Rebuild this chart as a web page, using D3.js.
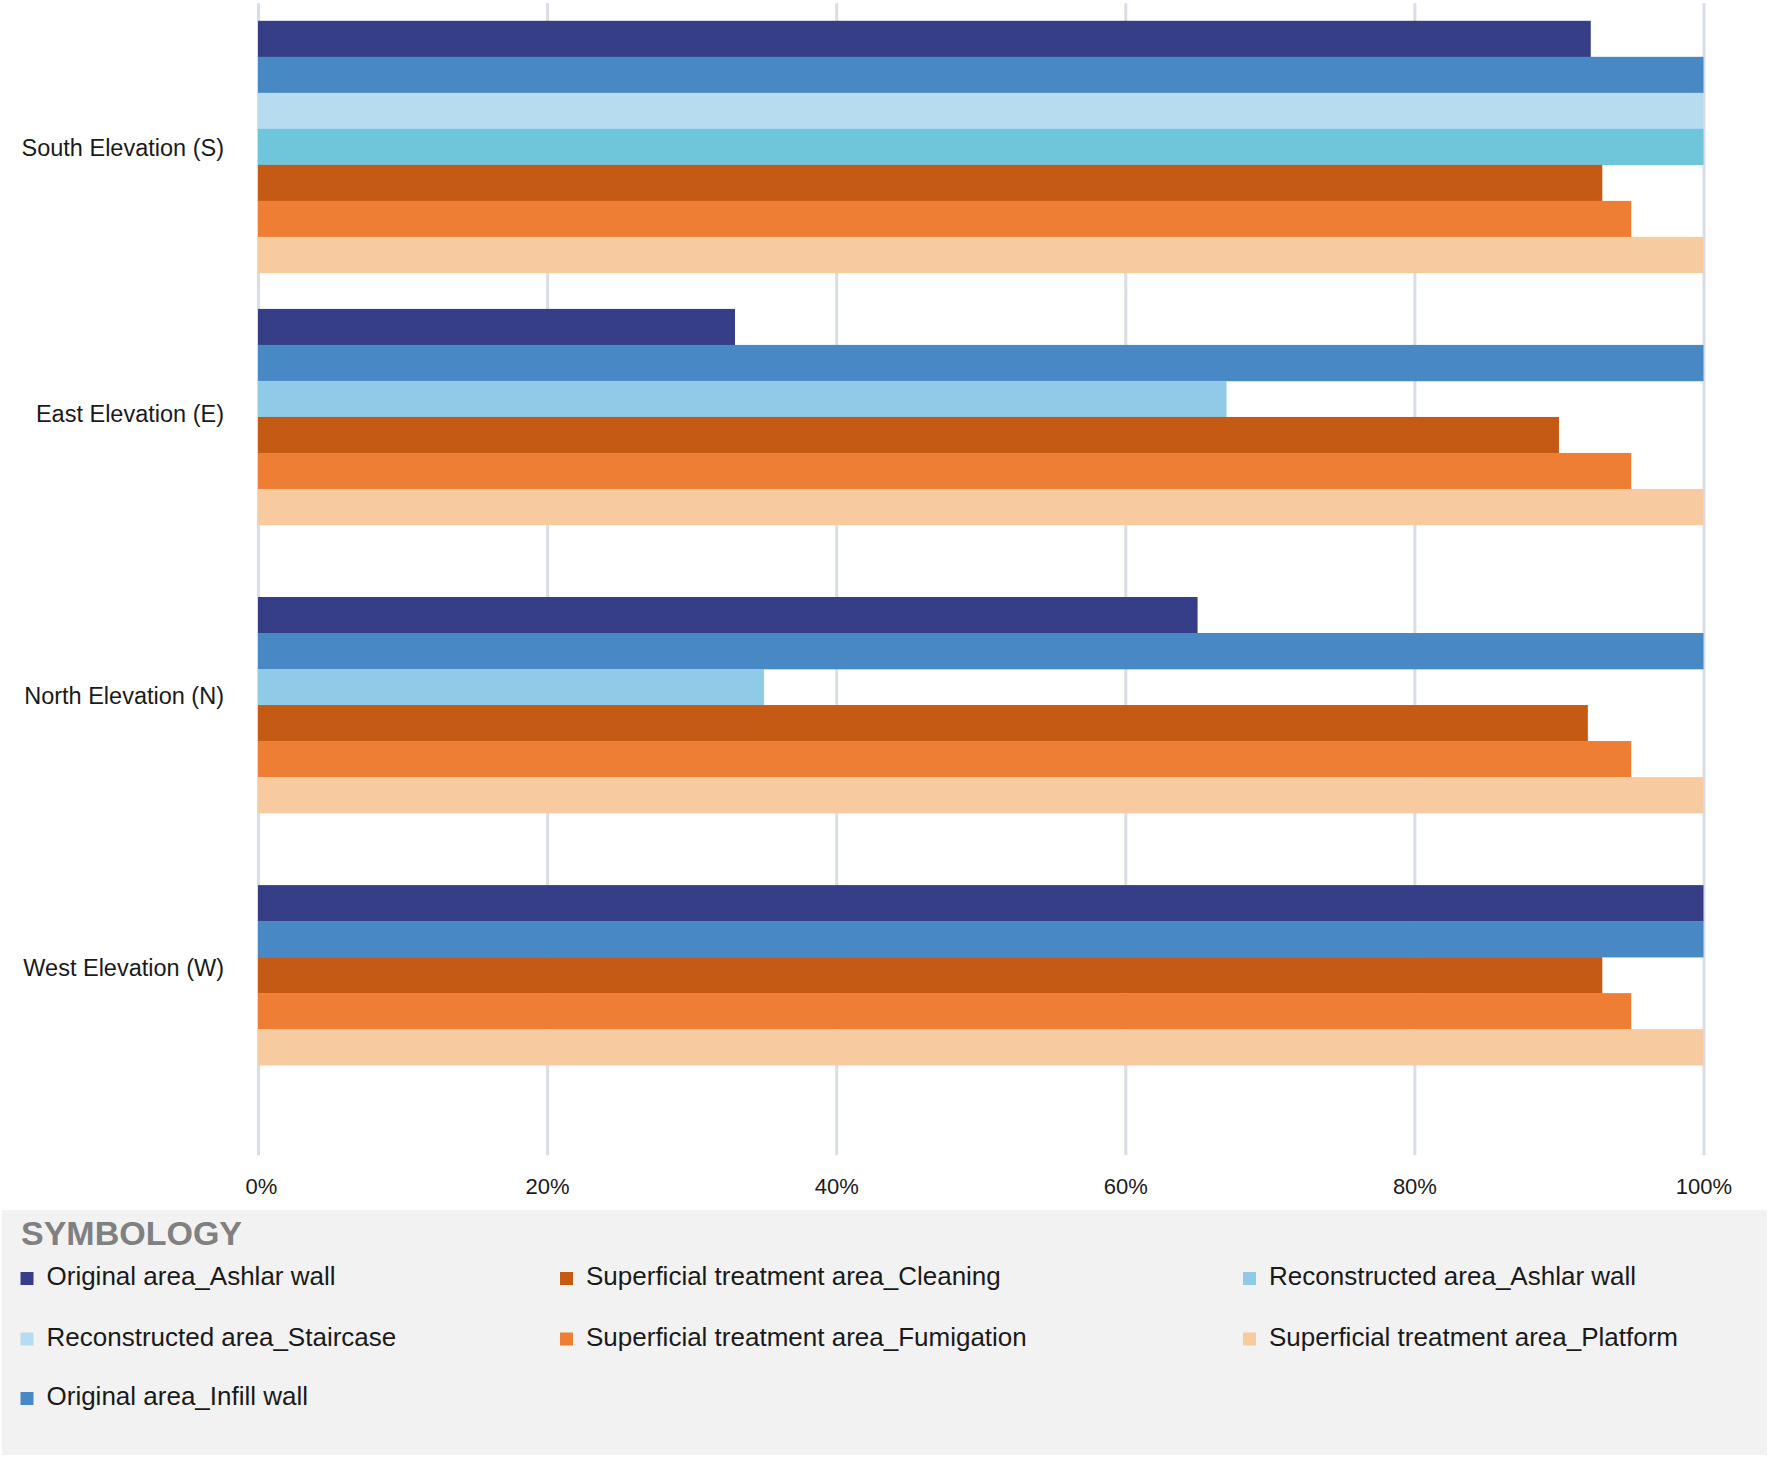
<!DOCTYPE html>
<html>
<head>
<meta charset="utf-8">
<script src="https://cdn.jsdelivr.net/npm/d3@7"></script>
<style>
  html, body { margin: 0; padding: 0; background: #ffffff; }
  svg { display: block; font-family: "Liberation Sans", Arial, sans-serif; }
</style>
</head>
<body>
<svg id="chart" width="1770" height="1457"></svg>
<script>
// ---------------- DATA ----------------
const categories = ["South Elevation (S)", "East Elevation (E)", "North Elevation (N)", "West Elevation (W)"];

const seriesNames = [
  "Original area_Ashlar wall",
  "Original area_Infill wall",
  "Reconstructed area_Staircase",
  "Reconstructed area_South (unlisted)",
  "Reconstructed area_Ashlar wall",
  "Superficial treatment area_Cleaning",
  "Superficial treatment area_Fumigation",
  "Superficial treatment area_Platform"
];

const seriesColors = ["#363E87", "#4788C5", "#B7DCF0", "#6FC6DA", "#8FCAE7", "#C55A15", "#EE7E33", "#F7CB9F"];

// values in %, order follows categories; null = no bar
const ashlarWall      = [92.2, 33, 65, 100];
const infillWall      = [100, 100, 100, 100];
const staircase       = [100, null, null, null];
const reconSouth      = [100, null, null, null];
const reconAshlar     = [null, 67, 35, null];
const cleaning        = [93, 90, 92, 93];
const fumigation      = [95, 95, 95, 95];
const platform        = [100, 100, 100, 100];
const seriesValues = [ashlarWall, infillWall, staircase, reconSouth, reconAshlar, cleaning, fumigation, platform];

const tickValues = [0, 20, 40, 60, 80, 100];
const tickLabels = ["0%", "20%", "40%", "60%", "80%", "100%"];

// legend, row-major (3 columns): indexes into seriesNames
const legendItems = [0, 5, 4, 2, 6, 7, 1];
const legendTitle = "SYMBOLOGY";

// ---------------- LAYOUT ----------------
const svg = d3.select("#chart");
const plotTop = 2.8, plotBottom = 1155.2;
const x = d3.scaleLinear().domain([0, 100]).range([258, 1703.5]);
const y = d3.scaleBand().domain(categories).range([plotTop, plotBottom]).paddingInner(0).paddingOuter(0);
const slots = 7;
const barH = y.bandwidth() / (slots + 1);
const labelNudge = [0, -4.5, -10, -9];

// gridlines + x labels via axis
const xAxis = d3.axisBottom(x)
  .tickValues(tickValues)
  .tickFormat((d, i) => tickLabels[i])
  .tickSize(-(plotBottom - 3.3))
  .tickPadding(23.5);
const gx = svg.append("g").attr("transform", `translate(0,${plotBottom})`).call(xAxis);
gx.select(".domain").remove();
gx.selectAll(".tick line").attr("stroke", "#D9DEE6").attr("stroke-width", 3);
gx.selectAll(".tick text").attr("fill", "#1a1a1a").attr("font-size", 22)
  .attr("font-family", "Liberation Sans, Arial, sans-serif")
  .attr("dx", (d, i) => i === 0 ? 3 : 0);

// bars
const groupCenters = [];
categories.forEach((cat, ci) => {
  const present = [];
  seriesValues.forEach((vals, si) => { if (vals[ci] != null) present.push({ si, v: vals[ci] }); });
  groupCenters.push(y(cat) + barH / 2 + present.length * barH / 2);
  const g = svg.append("g");
  g.selectAll("rect").data(present).join("rect")
    .attr("x", x(0))
    .attr("y", (d, k) => y(cat) + barH / 2 + k * barH)
    .attr("width", d => x(d.v) - x(0))
    .attr("height", barH + 0.3)
    .attr("fill", d => seriesColors[d.si]);
});

// y labels via axis, then moved to the centre of each bar group
const yAxis = d3.axisLeft(y).tickSize(0).tickPadding(34);
const gy = svg.append("g").attr("transform", `translate(${x(0)},0)`).call(yAxis);
gy.select(".domain").remove();
gy.selectAll(".tick")
  .attr("transform", (d, i) => `translate(0,${groupCenters[i] + labelNudge[i]})`);
gy.selectAll(".tick text").attr("fill", "#1a1a1a").attr("font-size", 23.5).attr("dy", "0.4em")
  .attr("font-family", "Liberation Sans, Arial, sans-serif");

// ---------------- LEGEND ----------------
svg.append("rect").attr("x", 2).attr("y", 1210).attr("width", 1765).attr("height", 245).attr("fill", "#F2F2F2");
svg.append("text").attr("x", 21).attr("y", 1245).attr("font-size", 34).attr("font-weight", "bold")
  .attr("fill", "#808080").text(legendTitle);

const colX = [20.5, 560, 1243];
const rowBase = [1285, 1345.5, 1405];
legendItems.forEach((si, i) => {
  const c = i % 3, r = Math.floor(i / 3);
  const g = svg.append("g");
  g.append("rect").attr("x", colX[c]).attr("y", rowBase[r] - 13).attr("width", 13).attr("height", 13).attr("fill", seriesColors[si]);
  g.append("text").attr("x", colX[c] + 26).attr("y", rowBase[r]).attr("font-size", 26).attr("fill", "#1a1a1a")
    .attr("textLength", null).text(seriesNames[si]);
});
</script>
</body>
</html>
